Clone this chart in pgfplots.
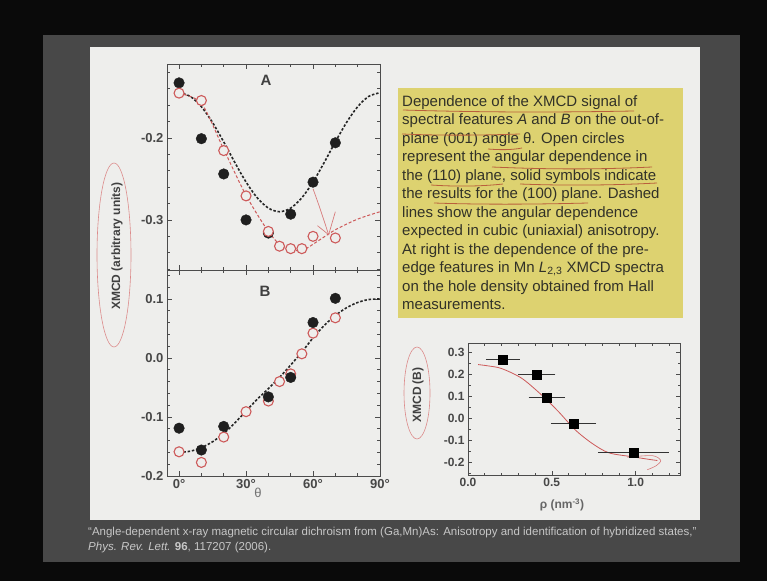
\documentclass[border=0pt]{standalone}
\usepackage{pgfplots}
\pgfplotsset{compat=1.18}
\usepackage{fontspec}
\setmainfont{Liberation Sans}
\definecolor{slidegray}{RGB}{72,72,72}
\definecolor{paper}{RGB}{238,238,236}
\definecolor{note}{RGB}{221,210,112}
\definecolor{pinkred}{RGB}{205,90,90}
\definecolor{ink}{RGB}{50,50,40}
\definecolor{pen}{RGB}{185,95,60}
\pgfplotsset{
  slide/.style={
    scale only axis,
    axis line style={draw=black!70, line width=0.8pt},
    tick style={black!70, line width=0.6pt},
    major tick length=5pt, minor tick length=3pt,
    tick align=inside,
    ticklabel style={font=\bfseries\fontsize{13}{13}\selectfont, text=black!72},
    clip=false,
  },
  solid dots/.style={only marks, mark=*, mark size=5.3pt, mark options={fill=black!88, draw=black!88}},
  open dots/.style={only marks, mark=*, mark size=5pt, mark options={fill=paper, draw=pinkred, line width=1.1pt}},
}
\begin{document}
\begin{tikzpicture}[x=1pt,y=1pt]
\useasboundingbox (0,0) rectangle (767,581);
\fill[black!96] (0,0) rectangle (767,581);
\fill[slidegray] (43,19) rectangle (740,546);
\fill[paper] (90,61) rectangle (700,534);
\fill[note] (398,263) rectangle (683,493);
\coordinate (pAB) at (167,311);
\coordinate (pS) at (468,106);

% ---------- panel A ----------
\begin{axis}[slide, at={(pAB)}, anchor=south west, width=213pt, height=206pt,
  xmin=-5.4, xmax=90, ymin=-0.361, ymax=-0.11,
  xtick={0,30,60,90}, xticklabels={}, minor xtick={10,20,40,50,70,80},
  ytick={-0.3,-0.2}, yticklabels={-0.3,-0.2},
  minor ytick={-0.36,-0.34,-0.32,-0.28,-0.26,-0.24,-0.22,-0.18,-0.16,-0.14,-0.12}]
\addplot[black!85, line width=1.6pt, dash pattern=on 2.5pt off 1.8pt, smooth] coordinates {
 (0,-0.1450) (5,-0.1494) (10,-0.1620) (15,-0.1813) (20,-0.2049) (25,-0.2301) (30,-0.2538)
 (35,-0.2730) (40,-0.2856) (45,-0.2900) (50,-0.2856) (55,-0.2730) (60,-0.2538) (65,-0.2301)
 (70,-0.2049) (75,-0.1813) (80,-0.1620) (85,-0.1494) (90,-0.1450)};
\addplot[pinkred, line width=1.0pt, dash pattern=on 3pt off 2pt, smooth] coordinates {
 (0,-0.146) (10,-0.158) (20,-0.214) (30,-0.270) (40,-0.314) (47,-0.334) (55,-0.337)
 (62,-0.326) (70,-0.312) (80,-0.299) (90,-0.290)};
\addplot[solid dots] coordinates {
 (0,-0.133) (10,-0.201) (20,-0.244) (30,-0.300) (40,-0.316) (50,-0.293) (60,-0.254) (70,-0.206)};
\addplot[open dots] coordinates {
 (0,-0.1455) (10,-0.1545) (20,-0.2155) (30,-0.2707) (40,-0.314) (45,-0.332) (50,-0.335)
 (55,-0.335) (60,-0.320) (70,-0.322)};
% hand-drawn arrow annotation
\addplot[pinkred!80, line width=0.7pt, smooth] coordinates {(60,-0.262) (63,-0.285) (67,-0.318)};
\addplot[pinkred!80, line width=0.7pt] coordinates {(62,-0.307) (67,-0.318) (70,-0.290)};
\node[font=\bfseries\fontsize{15}{15}\selectfont, text=black!75] at (axis cs:39,-0.1305) {A};
\end{axis}

% ---------- panel B ----------
\begin{axis}[slide, at={(pAB)}, anchor=north west, width=213pt, height=206pt,
  xmin=-5.4, xmax=90, ymin=-0.2, ymax=0.149,
  xtick={0,30,60,90}, xticklabels={0°,30°,60°,90°}, minor xtick={10,20,40,50,70,80},
  ytick={-0.2,-0.1,0,0.1}, yticklabels={-0.2,-0.1,0.0,0.1},
  minor ytick={-0.18,-0.16,-0.14,-0.12,-0.08,-0.06,-0.04,-0.02,0.02,0.04,0.06,0.08,0.12,0.14}]
\addplot[black!85, line width=1.6pt, dash pattern=on 2.5pt off 1.8pt, smooth] coordinates {
 (0,-0.160) (5,-0.158) (10,-0.152) (15,-0.142) (20,-0.128) (25,-0.110) (30,-0.090)
 (35,-0.070) (40,-0.052) (45,-0.033) (50,-0.012) (55,0.010) (60,0.034) (65,0.055)
 (70,0.072) (75,0.085) (80,0.094) (85,0.099) (90,0.100)};
\addplot[open dots] coordinates {
 (0,-0.159) (10,-0.177) (20,-0.134) (30,-0.091) (40,-0.073) (45,-0.040) (50,-0.027)
 (55,0.007) (60,0.042) (70,0.068)};
\addplot[solid dots] coordinates {
 (0,-0.119) (10,-0.156) (20,-0.116) (40,-0.066) (50,-0.033) (60,0.060) (70,0.101)};
\node[font=\bfseries\fontsize{15}{15}\selectfont, text=black!75] at (axis cs:38.5,0.112) {B};
\end{axis}

\node[rotate=90, font=\bfseries\fontsize{12}{12}\selectfont, text=black!75] at (117,335) {XMCD (arbitrary units)};
\draw[pinkred!70, line width=0.6pt] (114,326) ellipse (17pt and 92pt);
\node[font=\fontsize{13}{13}\selectfont, text=black!55] at (258,88) {θ};

% ---------- text box ----------
\node[anchor=north west, align=left, inner sep=0pt, text=ink,
      font=\fontsize{15}{18.5}\selectfont] at (402,486) {%
Dependence of the XMCD signal of\\
spectral features \textit{A} and \textit{B} on the out-of-\\
plane (001) angle θ. Open circles\\
represent the angular dependence in\\
the (110) plane, solid symbols indicate\\
the results for the (100) plane. Dashed\\
lines show the angular dependence\\
expected in cubic (uniaxial) anisotropy.\\
At right is the dependence of the pre-\\
edge features in Mn \textit{L}\textsubscript{2,3} XMCD spectra\\
on the hole density obtained from Hall\\
measurements.};
\begin{scope}[pen, line width=0.8pt]
\draw (403,471) .. controls (500,468) and (580,469) .. (634,470);
\draw (402,447) .. controls (450,445) and (490,446) .. (520,447);
\draw (488,432) .. controls (500,431) and (512,431) .. (522,433);
\draw (492,414) .. controls (560,411) and (610,412) .. (652,414);
\draw (431,396) .. controls (460,394) and (485,395) .. (503,397);
\draw (520,397) .. controls (570,395) and (620,396) .. (657,398);
\draw (434,378) .. controls (490,376) and (550,377) .. (588,378);
\end{scope}

% ---------- small plot ----------
\begin{axis}[slide, at={(pS)}, anchor=south west, width=212pt, height=132pt,
  xmin=0, xmax=1.265, ymin=-0.256, ymax=0.344,
  xtick={0,0.5,1.0}, xticklabels={0.0,0.5,1.0}, minor xtick={0.1,0.2,0.3,0.4,0.6,0.7,0.8,0.9,1.1,1.2},
  ytick={-0.2,-0.1,0,0.1,0.2,0.3}, yticklabels={-0.2,-0.1,0.0,0.1,0.2,0.3},
  minor ytick={-0.25,-0.15,-0.05,0.05,0.15,0.25},
  major tick length=4pt, minor tick length=2.5pt,
  ticklabel style={font=\bfseries\fontsize{12}{12}\selectfont, text=black!72}]
\addplot[pinkred, line width=0.8pt, smooth] coordinates {
 (0.06,0.246) (0.12,0.240) (0.20,0.228) (0.32,0.184) (0.44,0.107) (0.54,0.032) (0.64,-0.051)
 (0.74,-0.112) (0.84,-0.155) (0.98,-0.173) (1.09,-0.186) (1.13,-0.190)};
\addplot[pinkred!80, line width=0.6pt, smooth] coordinates {
 (0.95,-0.175) (1.10,-0.168) (1.15,-0.190) (1.12,-0.215) (1.07,-0.232)};
\addplot[black, only marks, mark=square*, mark size=4.5pt,
  error bars/.cd, x dir=both, x explicit,
  error bar style={black!80, line width=1pt},
  error mark options={black!80, line width=1pt, mark size=3.5pt}] coordinates {
 (0.207,0.270) +- (0.08,0)
 (0.410,0.200) +- (0.09,0)
 (0.470,0.097) +- (0.088,0)
 (0.630,-0.024) +- (0.114,0)
 (0.986,-0.155) +- (0.19,0)};
\end{axis}
\node[rotate=90, font=\bfseries\fontsize{12}{12}\selectfont, text=black!75] at (418,186) {XMCD (B)};
\draw[pinkred!70, line width=0.6pt] (417,188) ellipse (13pt and 46pt);
\node[font=\bfseries\fontsize{12}{12}\selectfont, text=black!60] at (562,76) {ρ (nm\textsuperscript{-3})};

% ---------- caption ----------
\node[anchor=base west, inner sep=0pt, text=black!22, font=\fontsize{11.5}{13}\selectfont] at (88,46)
 {“Angle-dependent x-ray magnetic circular dichroism from (Ga,Mn)As: Anisotropy and identification of hybridized states,”};
\node[anchor=base west, inner sep=0pt, text=black!22, font=\fontsize{11.5}{13}\selectfont] at (88,31)
 {\textit{Phys. Rev. Lett.} \textbf{96}, 117207 (2006).};
\end{tikzpicture}
\end{document}
